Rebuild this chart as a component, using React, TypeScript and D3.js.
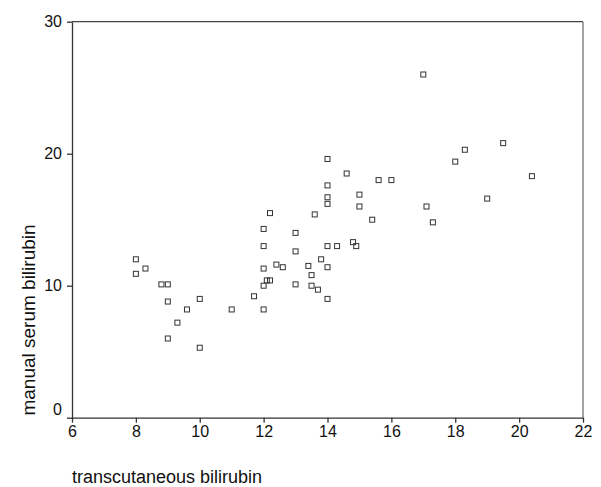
import React, { useEffect, useRef } from 'react';
import * as d3 from 'd3';

// transcutaneous bilirubin (x) vs manual serum bilirubin (y)
const tcb = [
  8.0, 8.3, 8.0, 8.8, 9.0, 9.0, 10.0, 9.6, 9.3, 9.0, 10.0,
  11.0, 11.7, 12.0, 12.0, 12.1, 12.2, 12.0, 12.4, 12.6, 12.0, 12.0, 12.2,
  13.0, 13.0, 13.0, 13.6, 13.4, 13.8, 14.0, 13.5, 13.5, 13.7, 14.0,
  14.0, 14.6, 15.6, 16.0, 14.0, 14.0, 14.0, 15.0, 15.0, 15.4,
  14.0, 14.3, 14.8, 14.9, 17.0, 18.3, 19.5, 18.0, 20.4, 19.0, 17.1, 17.3,
];
const serum = [
  12.0, 11.3, 10.9, 10.1, 10.1, 8.8, 9.0, 8.2, 7.2, 6.0, 5.3,
  8.2, 9.2, 8.2, 10.0, 10.4, 10.4, 11.3, 11.6, 11.4, 13.0, 14.3, 15.5,
  14.0, 12.6, 10.1, 15.4, 11.5, 12.0, 11.4, 10.8, 10.0, 9.7, 9.0,
  19.6, 18.5, 18.0, 18.0, 17.6, 16.7, 16.2, 16.9, 16.0, 15.0,
  13.0, 13.0, 13.3, 13.0, 26.0, 20.3, 20.8, 19.4, 18.3, 16.6, 16.0, 14.8,
];
const xTicks = [6, 8, 10, 12, 14, 16, 18, 20, 22];
const yTicks = [0, 10, 20, 30];
const xTitle = 'transcutaneous bilirubin';
const yTitle = 'manual serum bilirubin';

const ScatterChart = () => {
  const ref = useRef<SVGSVGElement | null>(null);

  useEffect(() => {
    const width = 601;
    const height = 487;
    const left = 72;
    const right = 583;
    const top = 21.7;
    const bottom = 417.7;
    const font = '"Liberation Sans", Arial, sans-serif';

    const svg = d3.select(ref.current);
    svg.selectAll('*').remove();
    svg.attr('width', width).attr('height', height);

    svg.append('rect').attr('width', width).attr('height', height).attr('fill', '#fff');

    const x = d3.scaleLinear().domain([6, 22]).range([left, right]);
    const y = d3.scaleLinear().domain([0, 30]).range([bottom, top]);

    // frame (top + right)
    svg.append('line')
      .attr('x1', left).attr('x2', right).attr('y1', top).attr('y2', top)
      .attr('stroke', '#444').attr('stroke-width', 1.2);
    svg.append('line')
      .attr('x1', right).attr('x2', right).attr('y1', top).attr('y2', bottom)
      .attr('stroke', '#666').attr('stroke-width', 1.2);

    // x axis
    const gx = svg.append('g')
      .attr('transform', `translate(0,${bottom})`)
      .call(d3.axisBottom(x).tickValues(xTicks).tickSize(5).tickSizeOuter(0).tickPadding(3));
    gx.select('.domain').attr('stroke', '#333').attr('stroke-width', 1.3);
    gx.selectAll('.tick line').attr('stroke', '#333').attr('stroke-width', 1.3);
    gx.selectAll('.tick text')
      .attr('font-family', font).attr('font-size', 16).attr('fill', '#111');

    // y axis
    const gy = svg.append('g')
      .attr('transform', `translate(${left},0)`)
      .call(d3.axisLeft(y).tickValues(yTicks).tickSize(5).tickSizeOuter(0).tickPadding(5));
    gy.select('.domain').attr('stroke', '#333').attr('stroke-width', 1.3);
    gy.selectAll('.tick line').attr('stroke', '#333').attr('stroke-width', 1.3);
    gy.selectAll('.tick text')
      .attr('font-family', font).attr('font-size', 16).attr('fill', '#111')
      .attr('y', (d: any) => (d === 0 ? -8 : 0));

    // axis titles
    svg.append('text')
      .attr('x', left)
      .attr('y', 483)
      .attr('font-family', font)
      .attr('font-size', 18)
      .attr('fill', '#111')
      .text(xTitle);

    svg.append('text')
      .attr('transform', `translate(35,${(220 + 420) / 2}) rotate(-90)`)
      .attr('text-anchor', 'middle')
      .attr('font-family', font)
      .attr('font-size', 19)
      .attr('fill', '#111')
      .text(yTitle);

    // points
    const s = 5;
    svg.append('g')
      .selectAll('rect')
      .data(tcb.map((v, i) => [v, serum[i]]))
      .join('rect')
      .attr('x', (d) => x(d[0]) - s / 2)
      .attr('y', (d) => y(d[1]) - s / 2)
      .attr('width', s)
      .attr('height', s)
      .attr('fill', 'none')
      .attr('stroke', '#333')
      .attr('stroke-width', 1);
  }, []);

  return <svg ref={ref} style={{ position: 'absolute', left: 0, top: 0 }}></svg>;
};

export default function App() {
  return <ScatterChart />;
}
